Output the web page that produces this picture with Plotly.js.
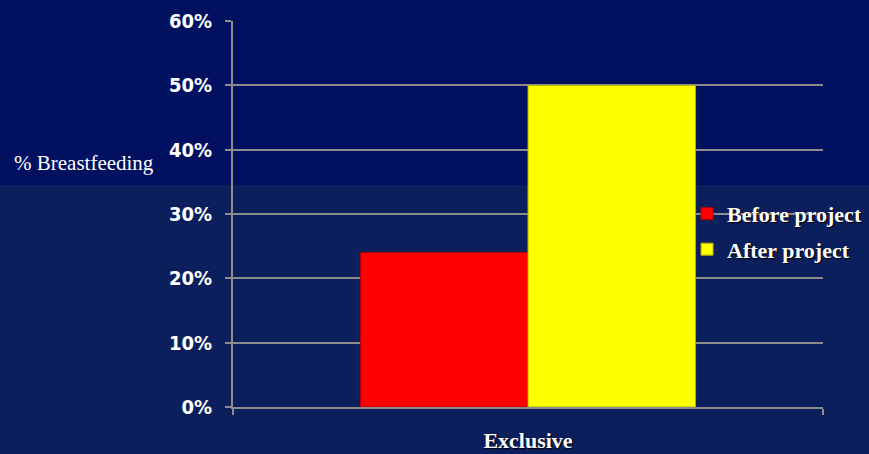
<!DOCTYPE html>
<html>
<head>
<meta charset="utf-8">
<script src="https://cdn.plot.ly/plotly-3.0.1.min.js"></script>
<style>html,body{margin:0;padding:0;background:#0c1f5d;}#chart{width:869px;height:454px;}</style>
</head>
<body>
<div id="chart"></div>
<script>
const categories = ['Exclusive'];
const seriesNames = ['Before project', 'After project'];
const beforeValues = [0.24];
const afterValues = [0.50];
const yTickValues = [0, 0.1, 0.2, 0.3, 0.4, 0.5, 0.6];
const yAxisLabel = '% Breastfeeding';

const serif = 'Liberation Serif, Times New Roman, serif';
const shadow = '1px 1px 1px #000';

const traces = [
  {type: 'bar', name: seriesNames[0], x: categories, y: beforeValues, legendgroup: 'a',
   marker: {color: '#ff0000', line: {color: '#b00000', width: 1}}, hoverinfo: 'skip'},
  {type: 'bar', name: seriesNames[1], x: categories, y: afterValues, legendgroup: 'b',
   marker: {color: '#ffff00', line: {color: '#b0b000', width: 1}}, hoverinfo: 'skip'}
];

const layout = {
  width: 869, height: 454,
  margin: {l: 233, r: 46, t: 21, b: 47, autoexpand: false},
  paper_bgcolor: '#0c1f5d',
  plot_bgcolor: 'rgba(0,0,0,0)',
  barmode: 'group',
  bargap: 0.432,
  bargroupgap: 0,
  showlegend: true,
  legend: {
    xref: 'container',
    x: 0.7906, y: 0.555, xanchor: 'left', yanchor: 'top',
    bgcolor: 'rgba(0,0,0,0)',
    font: {family: serif, size: 22, color: '#ffffff', shadow: shadow, weight: 'bold'},
    traceorder: 'grouped', tracegroupgap: 4
  },
  xaxis: {
    type: 'category',
    showline: true, linecolor: '#8c8c8c', linewidth: 2,
    ticks: 'outside', tickson: 'boundaries', ticklen: 6, tickcolor: '#8c8c8c', tickwidth: 2,
    showgrid: false,
    tickfont: {family: serif, size: 22, color: '#ffffff', shadow: shadow, weight: 'bold'},
    ticklabelstandoff: 13
  },
  yaxis: {
    range: [0, 0.6],
    tickvals: yTickValues,
    tickformat: '.0%',
    showline: true, linecolor: '#8c8c8c', linewidth: 2,
    ticks: 'outside', ticklen: 6, tickcolor: '#8c8c8c', tickwidth: 2,
    showgrid: true, gridcolor: '#8c8c8c', gridwidth: 2,
    zeroline: false,
    tickfont: {family: 'DejaVu Sans Condensed, DejaVu Sans, sans-serif', size: 20, color: '#ffffff', weight: 'bold'},
    ticklabelstandoff: 9
  },
  shapes: [
    {type: 'rect', xref: 'paper', yref: 'paper', x0: -0.5, x1: 1.2, y0: 0.575, y1: 1.2,
     fillcolor: '#01105f', line: {width: 0}, layer: 'below'}
  ],
  annotations: [
    {xref: 'paper', yref: 'paper', x: -0.3746, y: 0.632, xanchor: 'left', yanchor: 'middle',
     text: yAxisLabel, showarrow: false,
     font: {family: serif, size: 21, color: '#ffffff'}}
  ]
};

Plotly.newPlot('chart', traces, layout, {displayModeBar: false, staticPlot: true});
</script>
</body>
</html>
